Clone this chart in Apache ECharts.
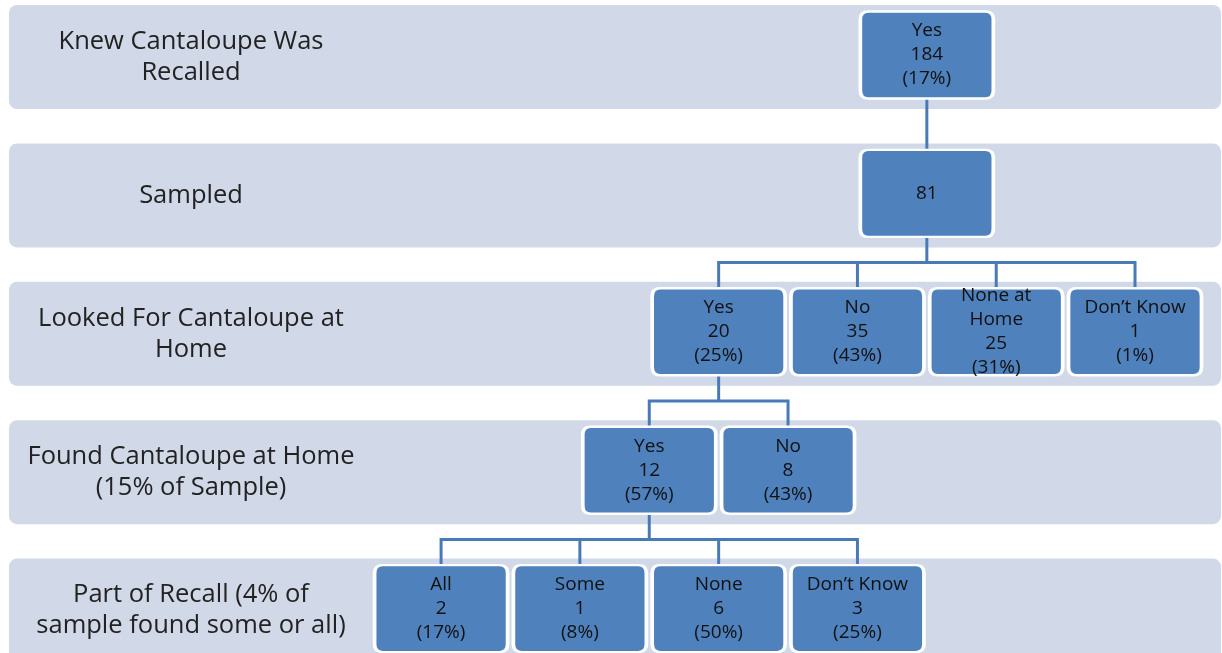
<!DOCTYPE html>
<html>
<head>
<meta charset="utf-8">
<script src="https://cdn.jsdelivr.net/npm/echarts@6/dist/echarts.min.js"></script>
<style>
html,body{margin:0;padding:0;background:#fff;}
#chart{width:1222px;height:653px;}
</style>
</head>
<body>
<div id="chart"></div>
<script>
// ---- data ----
const rowLabels = [
  'Knew Cantaloupe Was\nRecalled',
  'Sampled',
  'Looked For Cantaloupe at\nHome',
  'Found Cantaloupe at Home\n(15% of Sample)',
  'Part of Recall (4% of\nsample found some or all)'
];
const bandValues = [1, 1, 1, 1, 1];

const recalledName = 'Yes';
const recalledCount = 184;
const recalledPct = 17;

const sampledCount = 81;

const lookedNames = ['Yes', 'No', 'None at\nHome', 'Don\u2019t Know'];
const lookedCounts = [20, 35, 25, 1];
const lookedPcts = [25, 43, 31, 1];

const foundNames = ['Yes', 'No'];
const foundCounts = [12, 8];
const foundPcts = [57, 43];

const partNames = ['All', 'Some', 'None', 'Don\u2019t Know'];
const partCounts = [2, 1, 6, 3];
const partPcts = [17, 8, 50, 25];

// ---- build tree ----
const partNodes = partNames.map((n, i) => ({ name: n, value: partCounts[i], pct: partPcts[i] }));
const foundNodes = foundNames.map((n, i) => {
  const o = { name: n, value: foundCounts[i], pct: foundPcts[i] };
  if (i === 0) o.children = partNodes;
  return o;
});
const lookedNodes = lookedNames.map((n, i) => {
  const o = { name: n, value: lookedCounts[i], pct: lookedPcts[i] };
  if (i === 0) o.children = foundNodes;
  return o;
});
const treeData = [{
  name: recalledName, value: recalledCount, pct: recalledPct,
  children: [{ name: '', value: sampledCount, children: lookedNodes }]
}];

// ---- layout constants ----
const rowStep = 138.4;
const firstRow = 55;
const boxPath = 'path://M8,0L125,0Q133,0,133,8L133,79Q133,87,125,87L8,87Q0,87,0,79L0,8Q0,0,8,0Z';

const chart = echarts.init(document.getElementById('chart'), null, { renderer: 'canvas' });

function nodeLabel(p) {
  const d = p.data;
  const lines = [];
  if (d.name) lines.push(d.name);
  lines.push(String(d.value));
  if (d.pct != null) lines.push('(' + d.pct + '%)');
  return lines.join('\n');
}

const nodeLabelStyle = {
  show: true,
  position: 'inside',
  align: 'center',
  verticalAlign: 'middle',
  color: '#111111',
  fontFamily: 'Open Sans',
  fontSize: 19,
  lineHeight: 24,
  formatter: nodeLabel
};

chart.setOption({
  animation: false,
  backgroundColor: '#ffffff',
  grid: {
    outerBoundsMode: 'none',
    containLabel: false,
    left: 9, right: 1,
    top: firstRow + 2 - rowStep / 2,
    height: rowStep * 5
  },
  xAxis: { type: 'value', min: 0, max: 1, show: false },
  yAxis: { type: 'category', data: rowLabels, inverse: true, show: false },
  series: [
    {
      type: 'bar',
      data: bandValues,
      barWidth: 104,
      silent: true,
      itemStyle: { color: '#D1D9E8', borderRadius: 8 },
      label: {
        show: true,
        position: [182, '50%'],
        align: 'center',
        verticalAlign: 'middle',
        formatter: '{b}',
        color: '#222222',
        fontFamily: 'Open Sans',
        fontSize: 25.5,
        lineHeight: 31
      }
    },
    {
      type: 'tree',
      z: 5,
      data: treeData,
      orient: 'TB',
      layout: 'orthogonal',
      edgeShape: 'polyline',
      edgeForkPosition: '50%',
      expandAndCollapse: false,
      initialTreeDepth: -1,
      roam: false,
      left: 302.3,
      width: 971.5,
      top: firstRow,
      height: rowStep * 4,
      symbol: boxPath,
      symbolSize: [133, 87],
      itemStyle: { color: '#4F81BD', borderColor: '#ffffff', borderWidth: 3 },
      lineStyle: { color: '#4A7AB5', width: 3 },
      label: nodeLabelStyle,
      leaves: { label: nodeLabelStyle },
      emphasis: { disabled: true }
    }
  ]
});
</script>
</body>
</html>
